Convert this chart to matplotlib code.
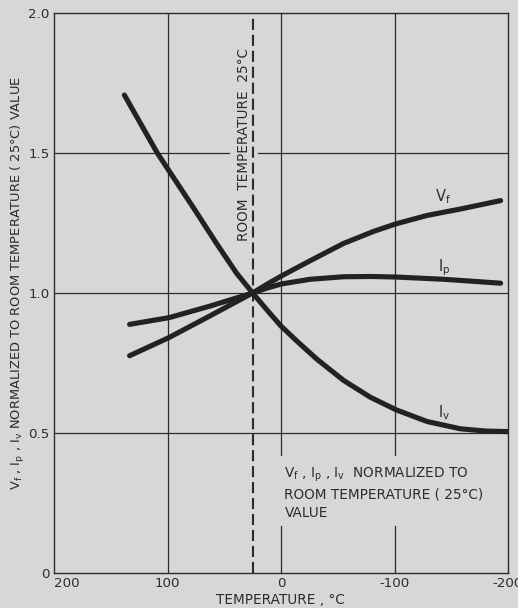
import matplotlib
matplotlib.use("Agg")
import matplotlib.pyplot as plt

# Normalized diode parameters vs. temperature (°C)
iv_temp = [138, 109, 98.6, 77.4, 56.8, 39.2, 25, 12.7, 0, -13.8, -31.5, -55.1, -78.6,
           -101.3, -128.7, -158.1, -180, -200]
iv_vals = [1.707, 1.50, 1.436, 1.306, 1.177, 1.071, 1.0, 0.941, 0.882, 0.829, 0.764,
           0.688, 0.628, 0.583, 0.541, 0.515, 0.507, 0.505]

vf_temp = [133.4, 98.6, 62.7, 25, 12, 0, -25.6, -55.1, -81.6, -101.3, -128.7, -158.1, -193.5]
vf_vals = [0.776, 0.841, 0.918, 1.0, 1.032, 1.06, 1.115, 1.177, 1.220, 1.247, 1.277, 1.300, 1.330]

ip_temp = [133.4, 98.6, 62.7, 25, 12, 0, -25.6, -55.1, -80, -101.3, -143.4, -193.5]
ip_vals = [0.888, 0.912, 0.953, 1.0, 1.018, 1.032, 1.049, 1.058, 1.059, 1.057, 1.049, 1.035]

room_temp = 25
x_ticks = [200, 100, 0, -100, -200]
x_tick_labels = ["200", "100", "0", "-100", "-200"]
y_ticks = [0, 0.5, 1.0, 1.5, 2.0]
y_tick_labels = ["0", "0.5", "1.0", "1.5", "2.0"]

BG = "#d7d7d5"
INK = "#2b2b2b"

plt.rcParams["font.family"] = ["DejaVu Sans"]
plt.rcParams["mathtext.default"] = "regular"
plt.rcParams["lines.scale_dashes"] = False

fig = plt.figure(figsize=(5.18, 6.08), dpi=100, facecolor=BG)
ax = fig.add_axes([54 / 518, 1 - 573 / 608, 454 / 518, 560 / 608])
ax.set_facecolor(BG)

ax.set_xlim(200, -200)
ax.set_ylim(0, 2.0)

for spine in ax.spines.values():
    spine.set_color(INK)
    spine.set_linewidth(1.0)

ax.set_xticks(x_ticks)
ax.set_xticklabels(x_tick_labels)
ax.set_yticks(y_ticks)
ax.set_yticklabels(y_tick_labels)
ax.tick_params(length=0, pad=3, labelsize=9.6, colors=INK)
ax.get_xticklabels()[0].set_ha("left")

# grid
for t in x_ticks[1:-1]:
    ax.axvline(t, color=INK, lw=0.9, zorder=1)
for v in y_ticks[1:-1]:
    ax.axhline(v, color=INK, lw=0.9, zorder=1)

# room temperature marker
rt = ax.axvline(room_temp, color=INK, lw=1.5, zorder=5)
rt.set_dashes((8, 3.5))
ax.text(32.5, 1.53, "ROOM  TEMPERATURE  25°C", rotation=90, ha="center", va="center",
        fontsize=9.8, color=INK, zorder=4,
        bbox=dict(boxstyle="square,pad=0.5", facecolor=BG, edgecolor="none"))

# curves
kw = dict(color="#222222", lw=3.7, solid_capstyle="round", solid_joinstyle="round", zorder=6)
ax.plot(iv_temp, iv_vals, **kw)
ax.plot(vf_temp, vf_vals, **kw)
ax.plot(ip_temp, ip_vals, **kw)

lab = dict(ha="center", va="center", fontsize=10.5, color=INK, zorder=7)
ax.text(-143, 1.345, "$V_f$", **lab)
ax.text(-144, 1.092, "$I_p$", **lab)
ax.text(-144, 0.574, "$I_v$", **lab)

ax.text(-3, 0.385,
        "$V_f$ , $I_p$ , $I_v$  NORMALIZED TO\nROOM TEMPERATURE ( 25°C)\nVALUE",
        ha="left", va="top", fontsize=9.8, color=INK, linespacing=1.4, zorder=4,
        bbox=dict(boxstyle="square,pad=0.45", facecolor=BG, edgecolor="none"))

fig.text(280 / 518, 1 - 600 / 608, "TEMPERATURE , °C", ha="center", va="center",
         fontsize=9.8, color=INK)
fig.text(18 / 518, 1 - 283 / 608,
         "$V_f$ , $I_p$ , $I_v$ NORMALIZED TO ROOM TEMPERATURE ( 25°C) VALUE",
         rotation=90, ha="center", va="center", fontsize=9.4, color=INK)

fig.savefig("out.png", dpi=100, facecolor=BG)
